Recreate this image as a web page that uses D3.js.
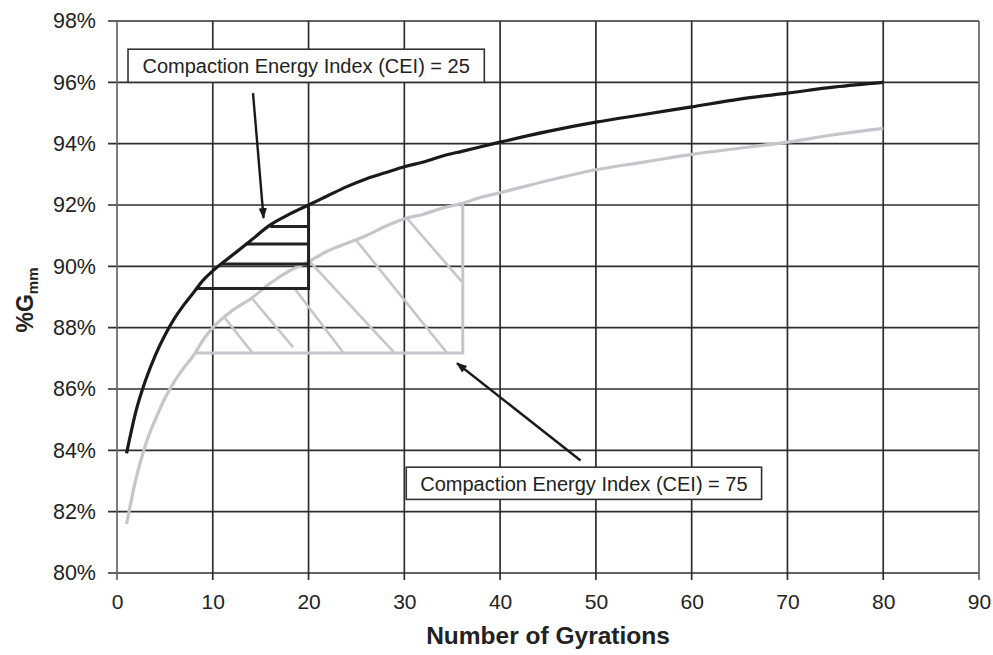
<!DOCTYPE html>
<html>
<head>
<meta charset="utf-8">
<script src="https://cdn.jsdelivr.net/npm/d3@7"></script>
<style>
  html, body { margin: 0; padding: 0; background: #fff; }
  svg { display: block; }
  text { font-family: "Liberation Sans", Arial, sans-serif; fill: #222; }
</style>
</head>
<body>
<svg id="chart" width="993" height="655"></svg>
<script>
// ---------------- data ----------------
const gyrations = [1,2,3,4,5,6,7,8,9,10,12,14,16,18,20,22,24,26,28,30,32,34,36,38,40,45,50,55,60,65,70,75,80];
const gmmUpper = [83.9,85.3,86.3,87.1,87.75,88.3,88.75,89.15,89.55,89.85,90.35,90.85,91.35,91.7,92.0,92.3,92.6,92.85,93.05,93.25,93.4,93.6,93.75,93.9,94.05,94.4,94.7,94.95,95.2,95.45,95.65,95.85,96.0];
const gmmLower = [81.6,83.1,84.2,85.0,85.7,86.25,86.7,87.1,87.6,88.0,88.55,88.95,89.45,89.85,90.15,90.5,90.75,91.0,91.3,91.55,91.7,91.9,92.05,92.25,92.4,92.8,93.15,93.4,93.65,93.85,94.05,94.3,94.5];

const xTicks = [0,10,20,30,40,50,60,70,80,90];
const yTicks = [80,82,84,86,88,90,92,94,96,98];

// CEI = 25 region (black): boundary + horizontal hatching [x1, x2, y]
const cei25Boundary = [[8.3,89.28],[20,89.28],[20,92.0]];
const cei25Hatch = [[11.0,20,90.08],[13.4,20,90.73],[16.0,20,91.3]];
// CEI = 75 region (grey): boundary + diagonal hatching [x1,y1,x2,y2]
const cei75Boundary = [[8.15,87.17],[36.1,87.17],[36.1,92.05]];
const cei75Hatch = [
  [11.3,88.3,14.1,87.2],
  [14.1,88.95,18.4,87.36],
  [18.6,89.25,23.6,87.2],
  [20.2,90.13,28.9,87.2],
  [25.0,90.84,34.4,87.2],
  [30.3,91.56,36.0,89.5]
];
// annotations: label, box [x1,x2,y1,y2], arrow [fromX,fromY,toX,toY]
const labels = ["Compaction Energy Index (CEI) = 25", "Compaction Energy Index (CEI) = 75"];
const labelBoxes = [[1.15,38.35,97.08,96.0],[30.2,67.3,83.45,82.4]];
const arrows = [[14.2,95.65,15.3,91.58],[48.4,83.67,35.5,86.84]];

const xTitle = "Number of Gyrations";

// ---------------- layout ----------------
const margin = {left:117, top:21, right:14, bottom:82};
const W = 993, H = 655;
const iw = W - margin.left - margin.right;
const ih = H - margin.top - margin.bottom;

const svg = d3.select("#chart");
const defs = svg.append("defs");
defs.append("marker").attr("id","arrow").attr("viewBox","0 0 10 10")
  .attr("refX",9).attr("refY",5).attr("markerWidth",4.5).attr("markerHeight",4.5)
  .attr("markerUnits","strokeWidth").attr("orient","auto")
  .append("path").attr("d","M0,1.2 L10,5 L0,8.8 Z").attr("fill","#1a1a1a");

const g = svg.append("g").attr("transform",`translate(${margin.left},${margin.top})`);

const x = d3.scaleLinear().domain([0,90]).range([0,iw]);
const y = d3.scaleLinear().domain([80,98]).range([ih,0]);

// grid
g.append("g").selectAll("line").data(yTicks).join("line")
  .attr("x1",-9).attr("x2",iw).attr("y1",d=>y(d)).attr("y2",d=>y(d))
  .attr("stroke","#2e2e2e").attr("stroke-width",1.7);
g.append("g").selectAll("line").data(xTicks).join("line")
  .attr("y1",0).attr("y2",ih+7).attr("x1",d=>x(d)).attr("x2",d=>x(d))
  .attr("stroke",d=> (d===0||d===90)?"#666":"#2e2e2e").attr("stroke-width",1.7);

// axes labels via d3 axes
const xAxis = g.append("g").attr("transform",`translate(0,${ih})`)
  .call(d3.axisBottom(x).tickValues(xTicks).tickSize(0).tickPadding(21).tickFormat(d3.format("d")));
xAxis.select(".domain").remove();
xAxis.selectAll("text").attr("font-size",21).attr("font-family","Liberation Sans, Arial, sans-serif").attr("fill","#222");

const yAxis = g.append("g")
  .call(d3.axisLeft(y).tickValues(yTicks).tickSize(0).tickPadding(21).tickFormat(d=>d+"%"));
yAxis.select(".domain").remove();
yAxis.selectAll("text").attr("font-size",21.5).attr("font-family","Liberation Sans, Arial, sans-serif").attr("fill","#222");

// curves
const upper = gyrations.map((v,i)=>[v,gmmUpper[i]]);
const lower = gyrations.map((v,i)=>[v,gmmLower[i]]);
const straight = d3.line().x(d=>x(d[0])).y(d=>y(d[1]));
const smooth = d3.line().x(d=>x(d[0])).y(d=>y(d[1])).curve(d3.curveMonotoneX);

// grey region
g.append("g").selectAll("line").data(cei75Hatch).join("line")
  .attr("x1",d=>x(d[0])).attr("y1",d=>y(d[1])).attr("x2",d=>x(d[2])).attr("y2",d=>y(d[3]))
  .attr("stroke","#c3c6cb").attr("stroke-width",2.6);
g.append("path").datum(cei75Boundary).attr("d",straight)
  .attr("fill","none").attr("stroke","#c3c6cb").attr("stroke-width",3);
g.append("path").datum(lower).attr("d",smooth)
  .attr("fill","none").attr("stroke","#c3c6cb").attr("stroke-width",3.2);

// black region
g.append("g").selectAll("line").data(cei25Hatch).join("line")
  .attr("x1",d=>x(d[0])).attr("x2",d=>x(d[1])).attr("y1",d=>y(d[2])).attr("y2",d=>y(d[2]))
  .attr("stroke","#222").attr("stroke-width",3);
g.append("path").datum(cei25Boundary).attr("d",straight)
  .attr("fill","none").attr("stroke","#222").attr("stroke-width",3);
g.append("path").datum(upper).attr("d",smooth)
  .attr("fill","none").attr("stroke","#1a1a1a").attr("stroke-width",3.2);

// arrows
g.append("g").selectAll("line").data(arrows).join("line")
  .attr("x1",d=>x(d[0])).attr("y1",d=>y(d[1])).attr("x2",d=>x(d[2])).attr("y2",d=>y(d[3]))
  .attr("stroke","#1a1a1a").attr("stroke-width",2.4).attr("marker-end","url(#arrow)");

// label boxes
const lb = g.append("g").selectAll("g").data(labels).join("g");
lb.append("rect")
  .attr("x",(d,i)=>x(labelBoxes[i][0])).attr("y",(d,i)=>y(labelBoxes[i][2]))
  .attr("width",(d,i)=>x(labelBoxes[i][1])-x(labelBoxes[i][0]))
  .attr("height",(d,i)=>y(labelBoxes[i][3])-y(labelBoxes[i][2]))
  .attr("fill","#fff").attr("stroke","#333").attr("stroke-width",1.6);
lb.append("text")
  .attr("x",(d,i)=>(x(labelBoxes[i][0])+x(labelBoxes[i][1]))/2)
  .attr("y",(d,i)=>(y(labelBoxes[i][2])+y(labelBoxes[i][3]))/2)
  .attr("dy","0.36em").attr("text-anchor","middle").attr("font-size",20)
  .text(d=>d);

// axis titles
svg.append("text").attr("x",margin.left+iw/2).attr("y",644)
  .attr("text-anchor","middle").attr("font-weight","bold").attr("font-size",24.5)
  .text(xTitle);
const yt = svg.append("text").attr("transform","translate(33,300) rotate(-90)")
  .attr("text-anchor","middle").attr("font-weight","bold").attr("font-size",23);
yt.append("tspan").text("%G");
yt.append("tspan").attr("font-size",15).attr("dy",5).text("mm");
</script>
</body>
</html>
